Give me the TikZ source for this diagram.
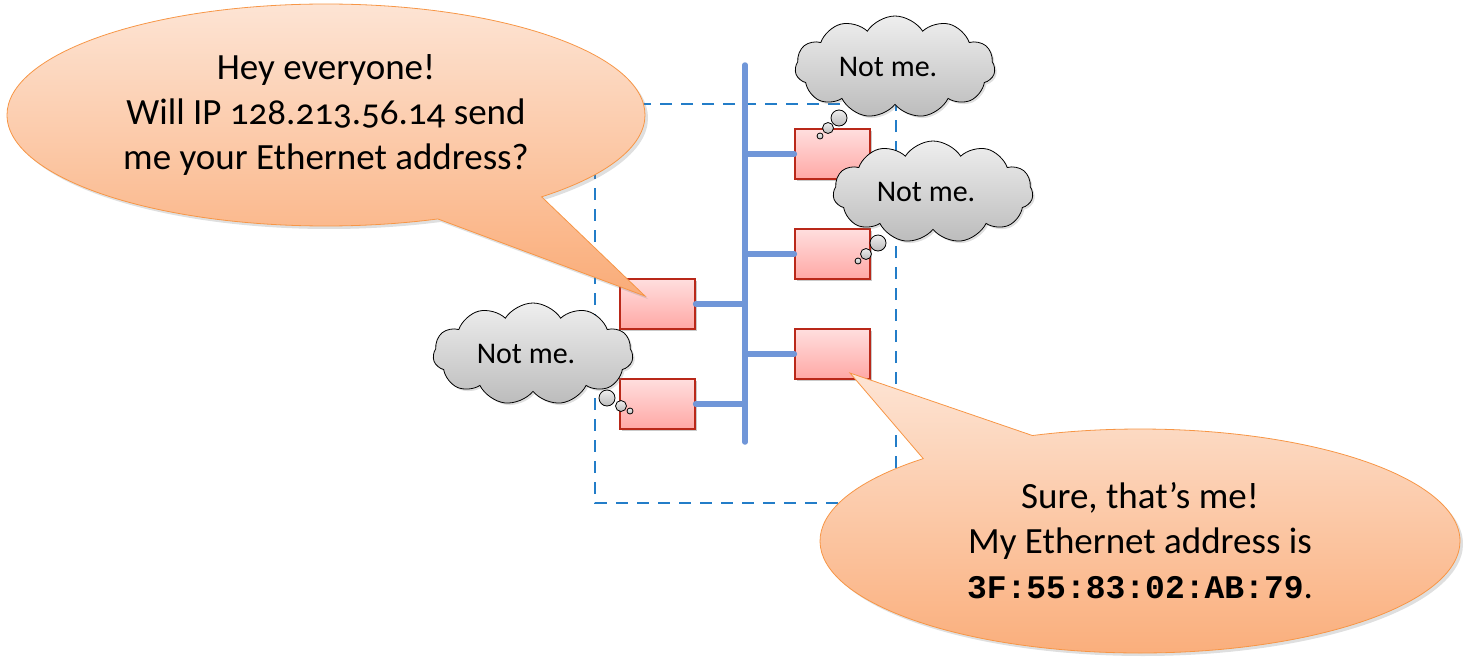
\documentclass[tikz,border=0pt]{standalone}
\usepackage{fontspec}
\setmainfont{Carlito}[Numbers=OldStyle]
\setmonofont{Liberation Mono}
\usetikzlibrary{shapes.callouts,shapes.symbols,shadows}
\definecolor{bubbletop}{RGB}{253,228,212}
\definecolor{bubblebot}{RGB}{250,172,120}
\definecolor{bubbleline}{RGB}{247,150,70}
\definecolor{boxtop}{RGB}{255,222,222}
\definecolor{boxbot}{RGB}{255,168,165}
\definecolor{boxline}{RGB}{185,40,25}
\definecolor{busblue}{RGB}{112,150,216}
\definecolor{dashblue}{RGB}{35,125,200}
\definecolor{cloudtop}{RGB}{238,238,238}
\definecolor{cloudbot}{RGB}{188,188,188}
\tikzset{
  hostbox/.style={rectangle, draw=boxline, line width=1.2pt, top color=boxtop, bottom color=boxbot,
    minimum width=75pt, minimum height=50pt, inner sep=0pt,
    drop shadow={shadow xshift=2pt, shadow yshift=-2pt, opacity=0.35, fill=black!60}},
  buswire/.style={line width=5.5pt, draw=busblue, line cap=round},
  lanbox/.style={draw=dashblue, line width=2.8pt, dash pattern=on 12pt off 9pt},
  speech/.style={ellipse callout, draw=bubbleline, line width=0.8pt, top color=bubbletop, bottom color=bubblebot,
    align=center, font=\fontsize{37}{45}\selectfont, inner sep=0pt,
    drop shadow={shadow xshift=3pt, shadow yshift=-3pt, opacity=0.25, fill=black!50}},
  thought/.style={cloud, cloud puffs=11, cloud puff arc=115, cloud ignores aspect, draw=black, line width=0.8pt,
    top color=cloudtop, bottom color=cloudbot, font=\fontsize{30}{34}\selectfont, inner sep=0pt,
    minimum width=200pt, minimum height=102pt,
    drop shadow={shadow xshift=2pt, shadow yshift=-2pt, opacity=0.25, fill=black!50}},
  thoughtdot/.style={circle, draw=black, line width=0.8pt, top color=cloudtop, bottom color=cloudbot, inner sep=0pt}
}
\begin{document}
\begin{tikzpicture}[x=1pt,y=-1pt]
\useasboundingbox (0,0) rectangle (1467,667);
% LAN boundary
\draw[lanbox] (595,104) rectangle (896,503);
% bus
\coordinate (bustop) at (745,65);
\coordinate (busbot) at (745,442);
\draw[buswire] (bustop) -- (busbot);
% hosts
\node[hostbox] (boxA) at (832.5,154) {};
\node[hostbox] (boxB) at (832.5,254) {};
\node[hostbox] (boxE) at (832.5,354) {};
\node[hostbox] (boxC) at (657.5,304) {};
\node[hostbox] (boxD) at (657.5,404) {};
\foreach \b in {boxA,boxB,boxE}{\draw[buswire] (\b.west) -- (\b.west -| bustop);}
\foreach \b in {boxC,boxD}{\draw[buswire] (\b.east) -- (\b.east -| bustop);}
% speech bubbles
\node[speech, minimum width=638pt, minimum height=222pt, callout pointer arc=22,
  callout absolute pointer={(645,296)}] (ask) at (326,115)
  {Hey everyone!\\Will IP 128.213.56.14 send\\me your Ethernet address?};
\node[speech, minimum width=640pt, minimum height=224pt, callout pointer arc=23,
  callout absolute pointer={(850,373)}] (reply) at (1140,541)
  {Sure, that’s me!\\My Ethernet address is\\{\fontsize{33}{45}\selectfont\ttfamily\bfseries 3F:55:83:02:AB:79}.};
% thought clouds
\node[thought] (no1) at (895,67) {\hspace*{-14pt}Not me.};
\node[thoughtdot, minimum size=16pt] (no1a) at (839,118) {};
\node[thoughtdot, minimum size=11pt] (no1b) at (828,128) {};
\node[thoughtdot, minimum size=6pt] (no1c) at (820,136) {};
\node[thought] (no2) at (933,192) {\hspace*{-14pt}Not me.};
\node[thoughtdot, minimum size=16pt] (no2a) at (878,243) {};
\node[thoughtdot, minimum size=11pt] (no2b) at (866,254) {};
\node[thoughtdot, minimum size=6pt] (no2c) at (858,261) {};
\node[thought] (no3) at (533,354) {\hspace*{-14pt}Not me.};
\node[thoughtdot, minimum size=16pt] (no3a) at (607,398) {};
\node[thoughtdot, minimum size=11pt] (no3b) at (621,406) {};
\node[thoughtdot, minimum size=6pt] (no3c) at (630,411) {};
\end{tikzpicture}
\end{document}
